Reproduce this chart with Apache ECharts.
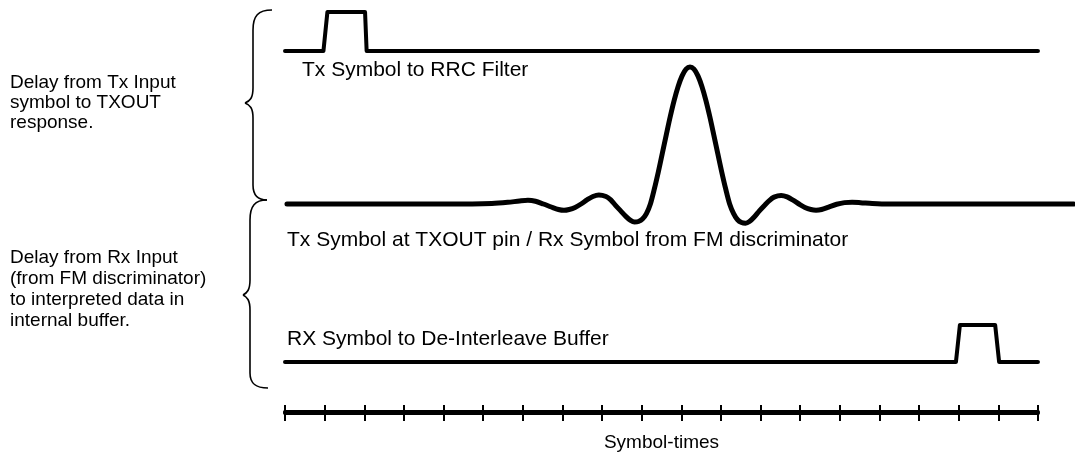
<!DOCTYPE html>
<html>
<head>
<meta charset="utf-8">
<script src="https://cdn.jsdelivr.net/npm/echarts@6/dist/echarts.min.js"></script>
<style>
  html, body { margin: 0; padding: 0; background: #fff; }
  #chart { width: 1075px; height: 461px; }
</style>
</head>
<body>
<div id="chart"></div>
<script>
// ---- data (x in symbol-times) ----
const axisSymbolTimes = 19;          // axis runs from 0 to 19 symbol-times
const waveEnd = 19.9;                // the RRC trace runs past the axis end

const txPulse = [[0, 0], [0.97, 0], [1.07, 1], [2.02, 1], [2.06, 0], [19, 0]];
const rxPulse = [[0, 0], [16.93, 0], [17.03, 1], [17.92, 1], [18.02, 0], [19, 0]];

// RRC filter response (normalised: baseline 0, peak 1)
const rrcX = [0.05, 4.72, 5.22, 5.62, 5.92, 6.13, 6.32, 6.52, 6.72, 6.90, 7.04, 7.17, 7.32, 7.47, 7.62, 7.77, 7.92, 8.10, 8.22, 8.34,
  8.47, 8.60, 8.72, 8.82, 8.92, 9.02, 9.12, 9.22, 9.32, 9.42, 9.52, 9.62, 9.72, 9.82, 9.92, 10.02, 10.12, 10.22,
  10.32, 10.42, 10.52, 10.62, 10.72, 10.82, 10.92, 11.02, 11.12, 11.22, 11.32, 11.42, 11.52, 11.62, 11.72, 11.84, 11.97,
  12.10, 12.22, 12.34, 12.52, 12.67, 12.82, 12.97, 13.12, 13.27, 13.40, 13.54, 13.72, 13.92, 14.12, 14.31, 14.52, 14.82, 15.22, 19.9];
const rrcY = [0, 0, 0.003, 0.012, 0.022, 0.027, 0.02, 0.0, -0.022, -0.04, -0.046, -0.04, -0.025, 0.0, 0.03, 0.055, 0.066, 0.055, 0.03, -0.01,
  -0.05, -0.09, -0.12, -0.132, -0.128, -0.11, -0.07, 0.0, 0.11, 0.234, 0.368, 0.504, 0.637, 0.757, 0.858, 0.935, 0.984, 1.0,
  0.984, 0.935, 0.858, 0.757, 0.637, 0.504, 0.368, 0.234, 0.11, 0.0, -0.07, -0.115, -0.135, -0.14, -0.128, -0.095, -0.05,
  -0.01, 0.025, 0.05, 0.062, 0.052, 0.028, 0.0, -0.025, -0.04, -0.045, -0.04, -0.022, -0.002, 0.01, 0.013, 0.01, 0.004, 0.0, 0];

const traceLabels = ['Tx Symbol to RRC Filter',
  'Tx Symbol at TXOUT pin / Rx Symbol from FM discriminator',
  'RX Symbol to De-Interleave Buffer'];
const delayTxText = ['Delay from Tx Input', 'symbol to TXOUT', 'response.'];
const delayRxText = ['Delay from Rx Input', '(from FM discriminator)', 'to interpreted data in', 'internal buffer.'];
const axisTitle = 'Symbol-times';

// ---- chart ----
const FONT = '"Liberation Sans", Arial, Helvetica, sans-serif';
const chart = echarts.init(document.getElementById('chart'), null, { renderer: 'canvas' });
const rrcData = rrcX.map((x, i) => [x, rrcY[i]]);

const LEFT = 285, UNIT = 39.63;
const hiddenX = (gi) => ({ gridIndex: gi, type: 'value', min: 0, max: waveEnd, show: false });
const hiddenY = (gi, mn, mx) => ({ gridIndex: gi, type: 'value', min: mn, max: mx, show: false });

const line = (xi, yi, data, w, smooth) => ({
  type: 'line', xAxisIndex: xi, yAxisIndex: yi, data: data, showSymbol: false, symbol: 'none',
  smooth: smooth || false, clip: false, animation: false,
  lineStyle: { color: '#000', width: w, join: 'round', cap: 'round' }
});

const BR = { stroke: '#000', lineWidth: 1.6, fill: null };
// curly brace: top end (xe, y0), spine x xs, cusp (xc, yc), bottom end (xe2, y1)
function brace(xe, y0, xs, xc, yc, xe2, y1) {
  return [
    { type: 'bezierCurve', shape: { x1: xe, y1: y0, cpx1: xs + 5, cpy1: y0, cpx2: xs, cpy2: y0 + 6, x2: xs, y2: y0 + 20 }, style: BR },
    { type: 'line', shape: { x1: xs, y1: y0 + 20, x2: xs, y2: yc - 15 }, style: BR },
    { type: 'bezierCurve', shape: { x1: xs, y1: yc - 15, cpx1: xs, cpy1: yc - 5, cpx2: xs - 3, cpy2: yc - 2, x2: xc, y2: yc }, style: BR },
    { type: 'bezierCurve', shape: { x1: xc, y1: yc, cpx1: xs - 3, cpy1: yc + 2, cpx2: xs, cpy2: yc + 5, x2: xs, y2: yc + 15 }, style: BR },
    { type: 'line', shape: { x1: xs, y1: yc + 15, x2: xs, y2: y1 - 15 }, style: BR },
    { type: 'bezierCurve', shape: { x1: xs, y1: y1 - 15, cpx1: xs, cpy1: y1 - 5, cpx2: xs + 5, cpy2: y1, x2: xe2, y2: y1 }, style: BR }
  ];
}

const txt = (x, y, s, size) => ({ type: 'text', x: x, y: y, style: { text: s, fill: '#000', font: size + 'px ' + FONT, verticalAlign: 'bottom' } });

const graphics = [].concat(
  brace(272, 10, 253, 245, 103, 267, 200),
  brace(267, 200, 250, 243, 295, 268, 388),
  [txt(302, 81, traceLabels[0], 21),
   txt(287, 251, traceLabels[1], 21),
   txt(287, 350, traceLabels[2], 21)]
);
delayTxText.forEach((s, i) => graphics.push(txt(10, 92 + i * 20, s, 19)));
delayRxText.forEach((s, i) => graphics.push(txt(10, 267 + i * 21, s, 19)));

chart.setOption({
  animation: false,
  backgroundColor: '#fff',
  grid: [
    { left: LEFT, top: 12, width: waveEnd * UNIT, height: 39 },
    { left: LEFT, top: 67, width: waveEnd * UNIT, height: 1.2 * 137 },
    { left: LEFT, top: 325, width: waveEnd * UNIT, height: 37 },
    { left: LEFT, top: 412, width: axisSymbolTimes * UNIT, height: 1 }
  ],
  xAxis: [
    hiddenX(0), hiddenX(1), hiddenX(2),
    { gridIndex: 3, type: 'value', min: 0, max: axisSymbolTimes, interval: 1, position: 'bottom',
      axisLine: { show: true, lineStyle: { color: '#000', width: 4 } },
      axisTick: { show: true, length: 8, lineStyle: { color: '#000', width: 2 } },
      axisLabel: { show: false }, splitLine: { show: false },
      name: axisTitle, nameLocation: 'middle', nameGap: 20,
      nameTextStyle: { color: '#000', fontSize: 19, fontFamily: FONT, verticalAlign: 'top' } },
    { gridIndex: 3, type: 'value', min: 0, max: axisSymbolTimes, interval: 1, position: 'top',
      axisLine: { show: true, lineStyle: { color: '#000', width: 4 } },
      axisTick: { show: true, length: 7, lineStyle: { color: '#000', width: 2 } },
      axisLabel: { show: false }, splitLine: { show: false } }
  ],
  yAxis: [hiddenY(0, 0, 1), hiddenY(1, -0.2, 1), hiddenY(2, 0, 1), hiddenY(3, 0, 1)],
  series: [
    line(0, 0, txPulse, 4),
    line(1, 1, rrcData, 5, 0.3),
    line(2, 2, rxPulse, 4)
  ],
  graphic: graphics
});
</script>
</body>
</html>
